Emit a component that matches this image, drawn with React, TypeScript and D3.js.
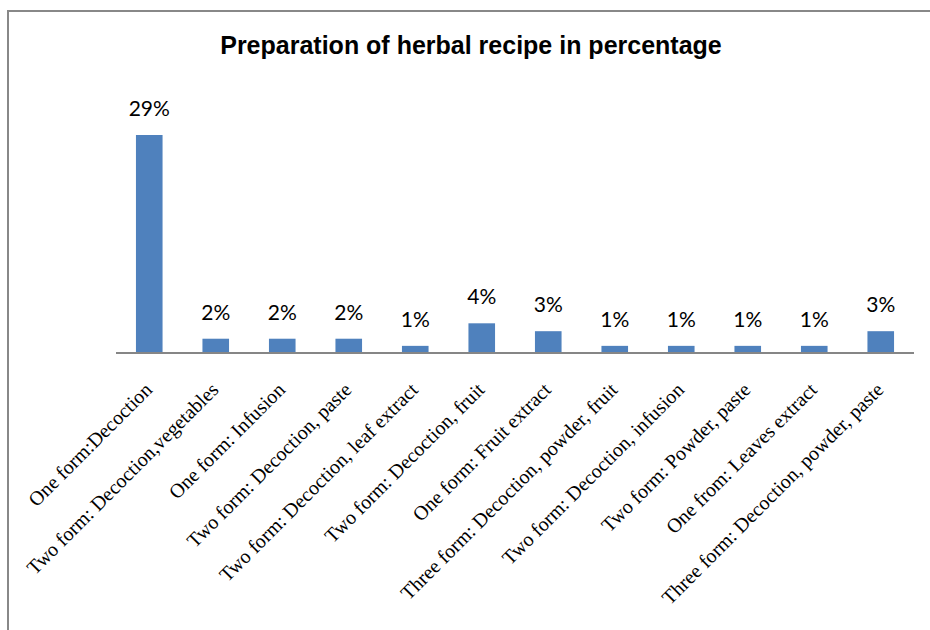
import React from "react";
import * as d3 from "d3";

const title = "Preparation of herbal recipe in percentage";
const categories = [
  "One form:Decoction",
  "Two form: Decoction,vegetables",
  "One form: Infusion",
  "Two form: Decoction, paste",
  "Two form: Decoction, leaf extract",
  "Two form: Decoction, fruit",
  "One form: Fruit extract",
  "Three form: Decoction, powder, fruit",
  "Two form: Decoction, infusion",
  "Two form: Powder, paste",
  "One from: Leaves extract",
  "Three form: Decoction, powder, paste",
];
const values = [29, 1.9, 1.9, 1.9, 0.95, 3.95, 2.9, 0.95, 0.95, 0.95, 0.95, 2.9];
const valueLabels = ["29%", "2%", "2%", "2%", "1%", "4%", "3%", "1%", "1%", "1%", "1%", "3%"];

const W = 930;
const H = 630;
const axisLeft = 116;
const axisRight = 914;
const baseY = 353;
const topY = 135;

export default function App() {
  const x = d3.scaleBand<string>().domain(categories).range([axisLeft, axisRight]).paddingInner(0.6).paddingOuter(0.3);
  const y = d3.scaleLinear().domain([0, 29]).range([baseY, topY]);
  const bw = x.bandwidth();
  return (
    <svg width={W} height={H} style={{ position: "absolute", left: 0, top: 0, background: "#fff" }}>
      <rect x={0} y={0} width={W} height={H} fill="#fff" />
      <line x1={8} y1={11} x2={W} y2={11} stroke="#888" strokeWidth={2} />
      <line x1={8} y1={10} x2={8} y2={H} stroke="#888" strokeWidth={2} />
      <text x={471} y={54} textAnchor="middle" fontFamily="'Liberation Sans', Arial, sans-serif" fontWeight="bold" fontSize={25} fill="#000">
        {title}
      </text>
      {categories.map((c, i) => {
        const bx = x(c)!;
        const cx = bx + bw / 2;
        return (
          <g key={c}>
            <rect x={bx} y={y(values[i])} width={bw} height={baseY - y(values[i])} fill="#4F81BD" />
            <text x={cx} y={y(values[i]) - 19} textAnchor="middle" fontFamily="Lato, 'Open Sans', sans-serif" fontSize={21} fill="#000">
              {valueLabels[i]}
            </text>
            <text
              transform={`translate(${cx + 4},${baseY + 38}) rotate(-45)`}
              textAnchor="end"
              fontFamily="'Liberation Serif', 'Times New Roman', serif"
              fontSize={20}
              fill="#000"
            >
              {c}
            </text>
          </g>
        );
      })}
      <line x1={axisLeft} y1={baseY} x2={axisRight} y2={baseY} stroke="#868686" strokeWidth={2} />
    </svg>
  );
}
